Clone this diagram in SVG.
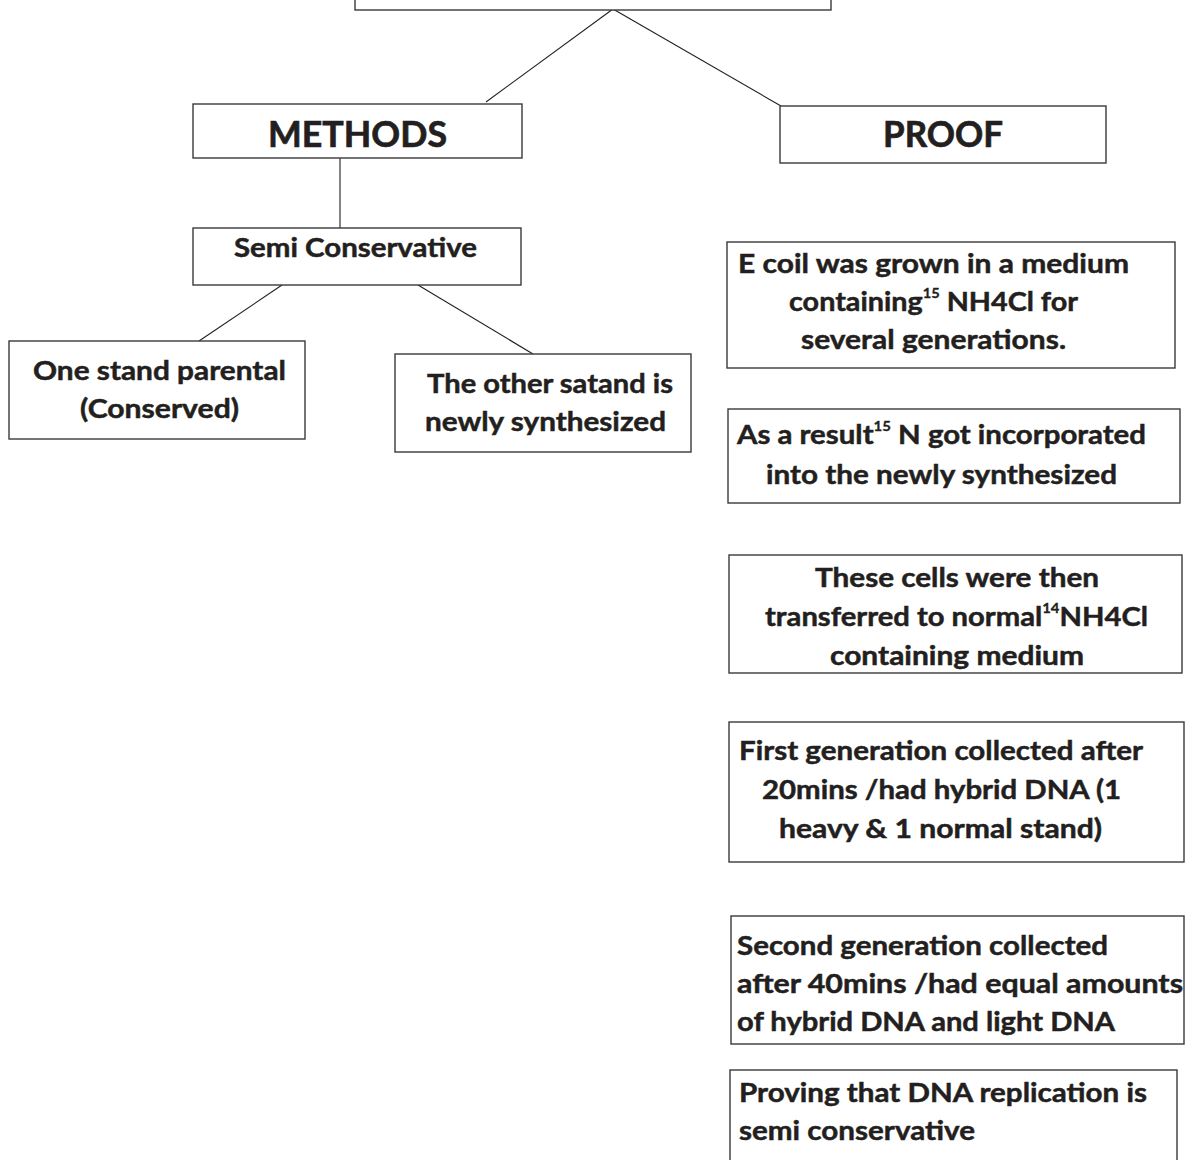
<svg xmlns="http://www.w3.org/2000/svg" width="1188" height="1160" viewBox="0 0 1188 1160">
<style>
  .box { fill: #ffffff; stroke: #3a3a3a; stroke-width: 1.4; }
  .t { font-family: Lato, "Open Sans", "Liberation Sans", sans-serif; font-weight: 700; font-size: 27.5px; fill: #231f20; stroke: #231f20; stroke-width: 0.5; }
  .h { font-size: 37px; stroke-width: 0.7; }
  .sup { font-size: 14px; stroke-width: 0.3; }
  .conn line { stroke: #231f20; stroke-width: 1.1; }
</style>
<rect width="1188" height="1160" fill="#ffffff"/>

<g id="connectors" class="conn">
  <line x1="613" y1="9" x2="486" y2="102"/>
  <line x1="613" y1="9" x2="781" y2="106"/>
  <line x1="340" y1="158" x2="340" y2="228"/>
  <line x1="282" y1="285" x2="199" y2="341"/>
  <line x1="418" y1="285" x2="533" y2="354"/>
</g>

<g id="node-top">
  <rect class="box" x="355" y="-20" width="476" height="30"/>
</g>

<g id="node-methods">
  <rect class="box" x="193" y="104" width="329" height="54"/>
  <text class="t h" x="268" y="147" textLength="179" lengthAdjust="spacingAndGlyphs">METHODS</text>
</g>

<g id="node-proof">
  <rect class="box" x="780" y="106" width="326" height="57"/>
  <text class="t h" x="883" y="147" textLength="120" lengthAdjust="spacingAndGlyphs">PROOF</text>
</g>

<g id="node-semi">
  <rect class="box" x="193" y="228" width="328" height="57"/>
  <text class="t" x="234" y="257" textLength="243" lengthAdjust="spacingAndGlyphs">Semi Conservative</text>
</g>

<g id="node-one">
  <rect class="box" x="9" y="341" width="296" height="98"/>
  <text class="t" x="33" y="380" textLength="253" lengthAdjust="spacingAndGlyphs">One stand parental</text>
  <text class="t" x="80" y="418" textLength="159" lengthAdjust="spacingAndGlyphs">(Conserved)</text>
</g>

<g id="node-other">
  <rect class="box" x="395" y="354" width="296" height="98"/>
  <text class="t" x="427" y="393" textLength="246" lengthAdjust="spacingAndGlyphs">The other satand is</text>
  <text class="t" x="425" y="431" textLength="241" lengthAdjust="spacingAndGlyphs">newly synthesized</text>
</g>

<g id="node-ecoil">
  <rect class="box" x="727" y="242" width="448" height="126"/>
  <text class="t" x="738" y="273" textLength="391" lengthAdjust="spacingAndGlyphs">E coil was grown in a medium</text>
  <text class="t" x="789" y="311" textLength="289" lengthAdjust="spacingAndGlyphs">containing<tspan class="sup" dy="-13">15</tspan><tspan dy="13"> NH4Cl for</tspan></text>
  <text class="t" x="801" y="349" textLength="265" lengthAdjust="spacingAndGlyphs">several generations.</text>
</g>

<g id="node-result">
  <rect class="box" x="728" y="409" width="452" height="94"/>
  <text class="t" x="737" y="444" textLength="409" lengthAdjust="spacingAndGlyphs">As a result<tspan class="sup" dy="-13">15</tspan><tspan dy="13"> N got incorporated</tspan></text>
  <text class="t" x="766" y="484" textLength="351" lengthAdjust="spacingAndGlyphs">into the newly synthesized</text>
</g>

<g id="node-cells">
  <rect class="box" x="729" y="555" width="453" height="118"/>
  <text class="t" x="815" y="587" textLength="284" lengthAdjust="spacingAndGlyphs">These cells were then</text>
  <text class="t" x="765" y="626" textLength="383" lengthAdjust="spacingAndGlyphs">transferred to normal<tspan class="sup" dy="-13">14</tspan><tspan dy="13">NH4Cl</tspan></text>
  <text class="t" x="830" y="665" textLength="254" lengthAdjust="spacingAndGlyphs">containing medium</text>
</g>

<g id="node-first">
  <rect class="box" x="729" y="722" width="455" height="140"/>
  <text class="t" x="739" y="760" textLength="404" lengthAdjust="spacingAndGlyphs">First generation collected after</text>
  <text class="t" x="762" y="799" textLength="359" lengthAdjust="spacingAndGlyphs">20mins /had hybrid DNA (1</text>
  <text class="t" x="779" y="838" textLength="323" lengthAdjust="spacingAndGlyphs">heavy &amp; 1 normal stand)</text>
</g>

<g id="node-second">
  <rect class="box" x="731" y="916" width="453" height="128"/>
  <text class="t" x="737" y="955" textLength="371" lengthAdjust="spacingAndGlyphs">Second generation collected</text>
  <text class="t" x="737" y="993" textLength="446" lengthAdjust="spacingAndGlyphs">after 40mins /had equal amounts</text>
  <text class="t" x="737" y="1031" textLength="378" lengthAdjust="spacingAndGlyphs">of hybrid DNA and light DNA</text>
</g>

<g id="node-proving">
  <rect class="box" x="730" y="1070" width="447" height="110"/>
  <text class="t" x="739" y="1102" textLength="408" lengthAdjust="spacingAndGlyphs">Proving that DNA replication is</text>
  <text class="t" x="739" y="1140" textLength="236" lengthAdjust="spacingAndGlyphs">semi conservative</text>
</g>
</svg>
